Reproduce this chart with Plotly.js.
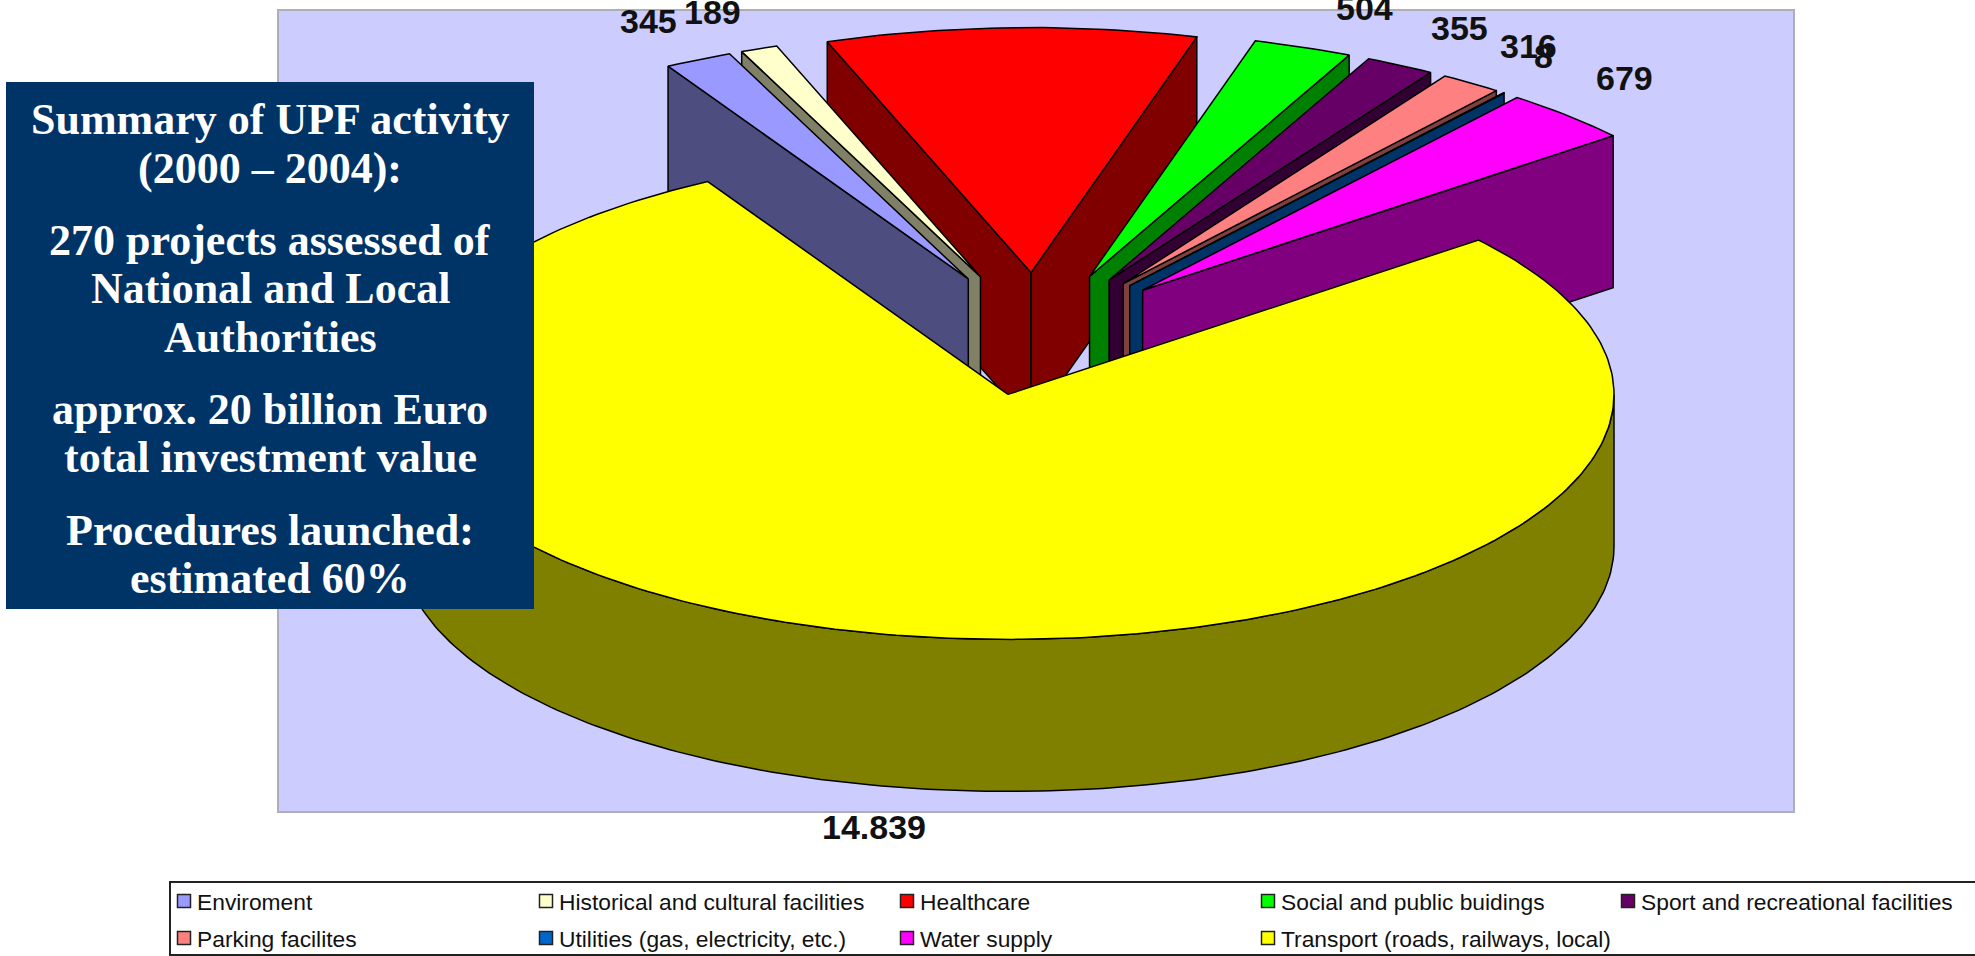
<!DOCTYPE html>
<html><head><meta charset="utf-8">
<script src="https://cdn.plot.ly/plotly-3.0.1.min.js"></script>
<style>html,body{margin:0;padding:0;background:#fff;overflow:hidden}#c{width:1975px;height:956px}</style>
</head><body><div id="c"></div>
<script>
// ---------- data ----------
const categories = ["Enviroment","Historical and cultural facilities","Healthcare","Social and public buidings","Sport and recreational facilities","Parking facilites","Utilities (gas, electricity, etc.)","Water supply","Transport (roads, railways, local)"];
const values = [345,189,1887,504,355,316,8,679,14839];
const valueLabels = ["345","189","1.887","504","355","316","8","679","14.839"];
const capColors = ["#9999FF","#FFFFCC","#FF0000","#00FF00","#660066","#FF8080","#0066CC","#FF00FF","#FFFF00"];
const wallColors = ["#4D4D80","#808066","#800000","#008000","#330033","#804040","#003366","#800080","#808000"];
const summaryLines = ["Summary of UPF activity","(2000 – 2004):","270 projects assessed of","National and Local","Authorities","approx. 20 billion Euro","total investment value","Procedures launched:","estimated 60%"];

// ---------- layout constants ----------
const W=1975,H=956;
const CX=1036,CY=334,RX=606,RY=245,DEPTH=152,EXPLODE=152,START=119.7;
const labelX=[648,712,1011,1364,1459,1528,1543,1624,874];
const labelY=[21,12,0,8,28,46,56,78,827];
const labelShift=[0,0,13,0,0,0,0,0,0];
const legendX=[184,546,907,1268,1628,184,546,907,1268];
const legendY=[901,901,901,901,901,938,938,938,938];
const summaryY=[119,168,240,288,337,409,457,530,578];
const FONT="Liberation Sans, Arial, sans-serif";

// ---------- pie geometry from the values ----------
const total=values.reduce((a,b)=>a+b,0);
const rad=d=>d*Math.PI/180;
let ang=START;
const wedges=values.map((v,i)=>{
  const a1=ang, a2=ang-v/total*360; ang=a2;
  const mid=(a1+a2)/2;
  return {i,a1,a2,mid,ax:CX+EXPLODE*Math.cos(rad(mid)),ay:CY-EXPLODE*RY/RX*Math.sin(rad(mid))};
});
function pt(w,a,dz){return [w.ax+RX*Math.cos(rad(a)),w.ay-RY*Math.sin(rad(a))+(dz||0)];}
function arc(w,a,b,dz){
  const n=Math.max(2,Math.ceil(Math.abs(a-b)/1));const out=[];
  for(let k=0;k<=n;k++)out.push(pt(w,a+(b-a)*k/n,dz));
  return out;
}
function poly(points,color){
  return {type:'scatter',mode:'lines',x:points.map(p=>p[0]),y:points.map(p=>p[1]),fill:'toself',fillcolor:color,
    line:{color:'#000',width:1.5},hoverinfo:'skip',showlegend:false,xaxis:'x',yaxis:'y'};
}
const traces=[];
// back to front
[...wedges].sort((p,q)=>Math.sin(rad(q.mid))-Math.sin(rad(p.mid))).forEach(w=>{
  const wall=wallColors[w.i];
  const apex=[w.ax,w.ay],apexB=[w.ax,w.ay+DEPTH];
  if(Math.cos(rad(w.a1))<0){const o=pt(w,w.a1),b=pt(w,w.a1,DEPTH);traces.push(poly([apex,o,b,apexB,apex],wall));}
  if(Math.cos(rad(w.a2))>0){const o=pt(w,w.a2),b=pt(w,w.a2,DEPTH);traces.push(poly([apex,o,b,apexB,apex],wall));}
  const lo=Math.max(w.a2,-180),hi=Math.min(w.a1,0);
  if(hi>lo){traces.push(poly([...arc(w,hi,lo),...arc(w,lo,hi,DEPTH),pt(w,hi)],wall));}
  traces.push(poly([apex,...arc(w,w.a1,w.a2),apex],capColors[w.i]));
});
// legend swatches
categories.forEach((c,i)=>traces.push({type:'scatter',mode:'markers',x:[legendX[i]],y:[legendY[i]],
  marker:{symbol:'square',size:13,color:capColors[i],line:{color:'#222',width:1.5}},
  name:c,showlegend:false,hoverinfo:'skip',cliponaxis:false}));

const annotations=[];
valueLabels.forEach((t,i)=>annotations.push({x:labelX[i],y:labelY[i],yshift:labelShift[i],xref:'x',yref:'y',text:'<b>'+t+'</b>',showarrow:false,xanchor:'center',yanchor:'middle',
  font:{family:FONT,size:34,color:'#111'}}));
categories.forEach((c,i)=>annotations.push({x:legendX[i]+11,y:legendY[i]+1,xref:'x',yref:'y',text:c,showarrow:false,xanchor:'left',yanchor:'middle',
  font:{family:FONT,size:22.8,color:'#111'}}));
summaryLines.forEach((t,i)=>annotations.push({x:270,y:summaryY[i],xref:'x',yref:'y',text:'<b>'+t+'</b>',showarrow:false,xanchor:'center',yanchor:'middle',
  font:{family:'Liberation Serif, serif',size:44,color:'#fff'}}));

const layout={width:W,height:H,margin:{l:0,r:0,t:0,b:0,pad:0},paper_bgcolor:'#fff',plot_bgcolor:'rgba(0,0,0,0)',showlegend:false,
  xaxis:{range:[0,W],visible:false,fixedrange:true},
  yaxis:{range:[H,0],visible:false,fixedrange:true},
  shapes:[
    {type:'rect',layer:'below',xref:'x',yref:'y',x0:278,x1:1794,y0:10,y1:812,fillcolor:'#CCCCFF',line:{color:'#AEAEB8',width:2}},
    {type:'rect',layer:'below',xref:'x',yref:'y',x0:170,x1:1980,y0:882,y1:955,fillcolor:'#fff',line:{color:'#222',width:2}},
    {type:'rect',layer:'above',xref:'x',yref:'y',x0:6,x1:534,y0:82,y1:609,fillcolor:'#003366',line:{width:0}}
  ],
  annotations};
Plotly.newPlot('c',traces,layout,{displayModeBar:false,staticPlot:true});
</script></body></html>
